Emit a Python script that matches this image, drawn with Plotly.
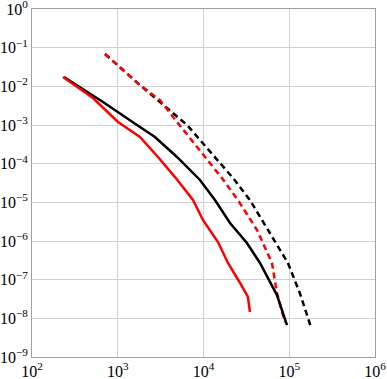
import plotly.graph_objects as go

# Black solid
bs_x = [236, 673, 1675, 2716, 4910, 9100, 13600, 20400, 32100, 45600, 71900, 94200]
bs_y = [1.75e-2, 3.94e-3, 1.0e-3, 4.9e-4, 1.49e-4, 3.79e-5, 1.15e-5, 2.92e-6, 8.9e-7, 2.7e-7, 4.0e-8, 6.7e-9]
# Red solid
rs_x = [230, 514, 1008, 1815, 2945, 4660, 7550, 9860, 14760, 19300, 26700, 33000, 34800]
rs_y = [1.75e-2, 4.99e-3, 1.2e-3, 4.9e-4, 1.49e-4, 4.5e-5, 1.15e-5, 3.5e-6, 9.4e-7, 2.7e-7, 8.2e-8, 3.57e-8, 1.46e-8]
# Black dashed
bd_x = [710, 1815, 3750, 6430, 22100, 34800, 56500, 96600, 133000, 179000]
bd_y = [6.86e-2, 1.08e-2, 2.75e-3, 1.0e-3, 4.26e-5, 1.15e-5, 1.93e-6, 2.7e-7, 4.5e-8, 6.0e-9]
# Red dashed
rd_x = [710, 1815, 3110, 4910, 16400, 25200, 42100, 62900, 71900, 89100]
rd_y = [6.86e-2, 1.08e-2, 4.4e-3, 1.2e-3, 4.26e-5, 1.15e-5, 1.93e-6, 2.7e-7, 4.5e-8, 8.0e-9]

x_tickvals = [1e2, 1e3, 1e4, 1e5, 1e6]
x_ticktext = ["10<sup>2</sup>", "10<sup>3</sup>", "10<sup>4</sup>", "10<sup>5</sup>", "10<sup>6</sup>"]
y_tickvals = [1e0, 1e-1, 1e-2, 1e-3, 1e-4, 1e-5, 1e-6, 1e-7, 1e-8, 1e-9]
y_ticktext = ["10<sup>0</sup>", "10<sup>−1</sup>", "10<sup>−2</sup>", "10<sup>−3</sup>", "10<sup>−4</sup>",
              "10<sup>−5</sup>", "10<sup>−6</sup>", "10<sup>−7</sup>", "10<sup>−8</sup>", "10<sup>−9</sup>"]

fig = go.Figure()
fig.add_trace(go.Scatter(x=bd_x, y=bd_y, mode="lines", line=dict(color="black", width=2.5, dash="6px,4px")))
fig.add_trace(go.Scatter(x=rd_x, y=rd_y, mode="lines", line=dict(color="#ff0000", width=2.5, dash="6px,4px")))
fig.add_trace(go.Scatter(x=bs_x, y=bs_y, mode="lines", line=dict(color="black", width=2.5)))
fig.add_trace(go.Scatter(x=rs_x, y=rs_y, mode="lines", line=dict(color="#ff0000", width=2.5)))

axis_common = dict(showline=True, linecolor="#a0a0a0", linewidth=1, mirror=True,
                   showgrid=True, gridcolor="#d0d0d0", gridwidth=1, zeroline=False,
                   ticks="", automargin=False, ticklabeloverflow="allow",
                   tickfont=dict(family="Liberation Serif", size=16, color="black"))
fig.update_xaxes(type="log", range=[2, 6.0005], tickvals=x_tickvals, ticktext=x_ticktext, **axis_common)
fig.update_yaxes(type="log", range=[-9, 0.0005], tickvals=y_tickvals, ticktext=y_ticktext,
                 ticklabelstandoff=0, **axis_common)
fig.update_layout(width=387, height=379, margin=dict(l=32, r=12, t=9, b=22),
                  showlegend=False, plot_bgcolor="white", paper_bgcolor="white",
                  font=dict(family="Liberation Serif"))
fig.write_html("out.html", config={"displayModeBar": False},
               post_script="document.body.style.margin='0';document.body.style.overflow='hidden';")
